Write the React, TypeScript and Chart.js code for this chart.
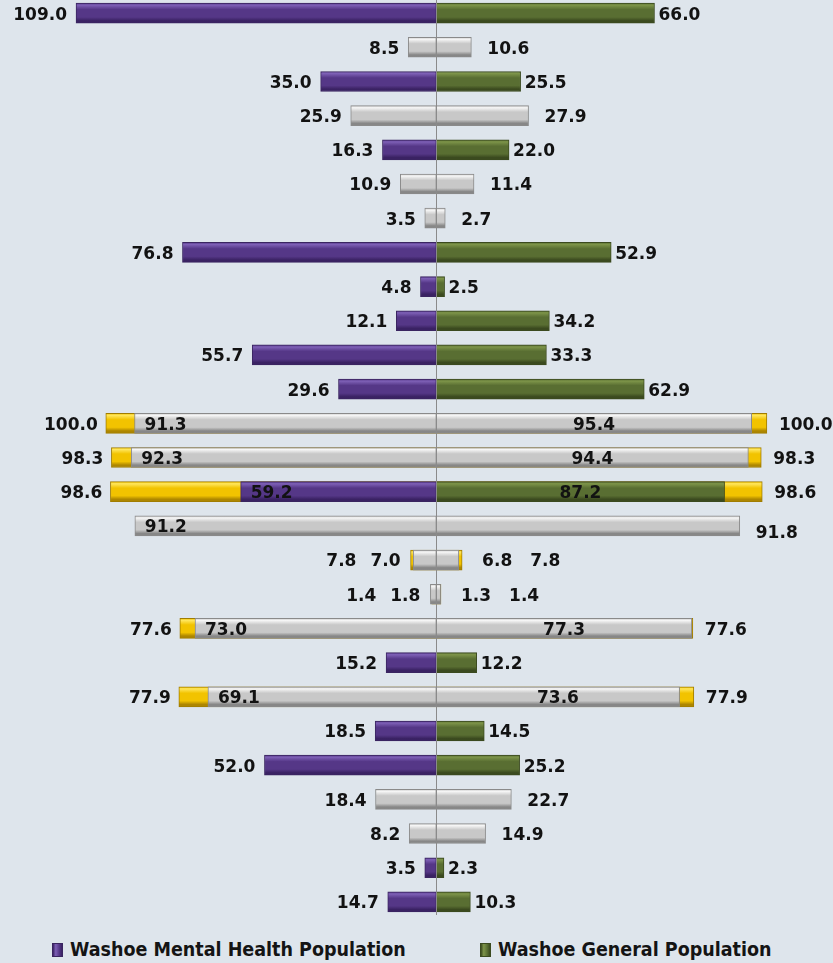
import React, { useEffect, useRef } from "react";
import { Chart, registerables } from "chart.js";

Chart.register(...registerables);

const categories = ["1","2","3","4","5","6","7","8","9","10","11","12","13","14","15","16","17","18","19","20","21","22","23","24","25","26","27"];

const mentalHealth = [109.0, 8.5, 35.0, 25.9, 16.3, 10.9, 3.5, 76.8, 4.8, 12.1, 55.7, 29.6, 91.3, 92.3, 59.2, 91.2, 7.0, 1.8, 73.0, 15.2, 69.1, 18.5, 52.0, 18.4, 8.2, 3.5, 14.7];
const general = [66.0, 10.6, 25.5, 27.9, 22.0, 11.4, 2.7, 52.9, 2.5, 34.2, 33.3, 62.9, 95.4, 94.4, 87.2, 91.8, 6.8, 1.3, 77.3, 12.2, 73.6, 14.5, 25.2, 22.7, 14.9, 2.3, 10.3];
const mentalHealthTarget = [null, null, null, null, null, null, null, null, null, null, null, null, 100.0, 98.3, 98.6, null, 7.8, 1.4, 77.6, null, 77.9, null, null, null, null, null, null];
const generalTarget = [null, null, null, null, null, null, null, null, null, null, null, null, 100.0, 98.3, 98.6, null, 7.8, 1.4, 77.6, null, 77.9, null, null, null, null, null, null];
const highlighted = [true, false, true, false, true, false, false, true, true, true, true, true, false, false, true, false, false, false, false, true, false, true, true, false, false, true, true];

const seriesNames = ["Washoe Mental Health Population", "Washoe General Population"];

const PAL = {
  purple: ["#7e60b6", "#553787", "#3a2263"],
  green: ["#7d9449", "#596e32", "#3b4a1f"],
  grey: ["#f6f6f6", "#c8c8c8", "#878787"],
  yellow: ["#ffe65c", "#f2c300", "#ad8600"],
};

function grad(chart: any, idx: number, cols: string[]) {
  const y = chart.scales && chart.scales.y;
  if (!y || !chart.ctx) return cols[1];
  const yc = y.getPixelForValue(idx);
  if (!isFinite(yc)) return cols[1];
  const g = chart.ctx.createLinearGradient(0, yc - 10, 0, yc + 10);
  g.addColorStop(0, cols[1]);
  g.addColorStop(0.1, cols[0]);
  g.addColorStop(0.32, cols[1]);
  g.addColorStop(0.7, cols[1]);
  g.addColorStop(0.88, cols[2]);
  g.addColorStop(1, cols[2]);
  return g;
}

const fmt = (v: number) => v.toFixed(1);

const labelPlugin = {
  id: "butterflyLabels",
  afterDatasetsDraw(chart: any) {
    const { ctx, chartArea } = chart;
    const x = chart.scales.x;
    const y = chart.scales.y;
    const x0 = x.getPixelForValue(0);
    ctx.save();
    ctx.strokeStyle = "#8a8a8a";
    ctx.lineWidth = 1;
    ctx.beginPath();
    ctx.moveTo(Math.round(x0) + 0.5, chartArea.top);
    ctx.lineTo(Math.round(x0) + 0.5, chartArea.bottom - 4);
    ctx.stroke();

    ctx.font = 'bold 17px "DejaVu Sans"';
    ctx.fillStyle = "#121212";
    ctx.textBaseline = "middle";
    const text = (s: string, px: number, py: number, align: CanvasTextAlign) => {
      ctx.textAlign = align;
      ctx.fillText(s, px, py);
    };
    for (let i = 0; i < categories.length; i++) {
      const yc = y.getPixelForValue(i) + 2;
      const l = mentalHealth[i];
      const r = general[i];
      const lt = mentalHealthTarget[i];
      const rt = generalTarget[i];
      const xl = x.getPixelForValue(-l);
      const xr = x.getPixelForValue(r);
      if (lt == null || rt == null) {
        if (!highlighted[i] && l > 85) text(fmt(l), xl + 10, yc, "left");
        else text(fmt(l), xl - 9, yc, "right");
        text(fmt(r), xr + (highlighted[i] ? 4 : 16), yc + (!highlighted[i] && r > 85 ? 6 : 0), "left");
      } else {
        const xlt = x.getPixelForValue(-lt);
        const xrt = x.getPixelForValue(rt);
        const leftEdge = Math.min(xl, xlt);
        const rightEdge = Math.max(xr, xrt);
        if (l > 30) {
          text(fmt(lt), leftEdge - 8, yc, "right");
          text(fmt(l), xl + 10, yc, "left");
          text(fmt(r), (x0 + xr) / 2, yc, "center");
          text(fmt(rt), rightEdge + 12, yc, "left");
        } else {
          const wl = ctx.measureText(fmt(l)).width;
          text(fmt(l), leftEdge - 10, yc, "right");
          text(fmt(lt), leftEdge - 10 - wl - 14, yc, "right");
          const wr = ctx.measureText(fmt(r)).width;
          text(fmt(r), rightEdge + 20, yc, "left");
          text(fmt(rt), rightEdge + 20 + wr + 18, yc, "left");
        }
      }
    }
    ctx.restore();
  },
};

export default function App() {
  const ref = useRef<HTMLCanvasElement>(null);
  useEffect(() => {
    if (!ref.current) return;
    const chart = new Chart(ref.current, {
      type: "bar",
      data: {
        labels: categories,
        datasets: [
          {
            label: seriesNames[0],
            data: mentalHealth.map((v) => -v),
            backgroundColor: (c: any) => grad(c.chart, c.dataIndex, highlighted[c.dataIndex] ? PAL.purple : PAL.grey),
            borderColor: (c: any) => (highlighted[c.dataIndex] ? "#3a2560" : "#8a8a8a"),
            borderWidth: 1,
            borderSkipped: false,
            grouped: false,
            order: 0,
            barThickness: 20,
          } as any,
          {
            label: seriesNames[1],
            data: general,
            backgroundColor: (c: any) => grad(c.chart, c.dataIndex, highlighted[c.dataIndex] ? PAL.green : PAL.grey),
            borderColor: (c: any) => (highlighted[c.dataIndex] ? "#3b4a1f" : "#8a8a8a"),
            borderWidth: 1,
            borderSkipped: false,
            grouped: false,
            order: 1,
            barThickness: 20,
          } as any,
          {
            label: "Mental Health Target",
            data: mentalHealthTarget.map((v) => (v == null ? null : -v)),
            backgroundColor: (c: any) => grad(c.chart, c.dataIndex, PAL.yellow),
            borderColor: "#a07c00",
            borderWidth: 1,
            borderSkipped: false,
            grouped: false,
            order: 2,
            barThickness: 20,
          } as any,
          {
            label: "General Target",
            data: generalTarget,
            backgroundColor: (c: any) => grad(c.chart, c.dataIndex, PAL.yellow),
            borderColor: "#a07c00",
            borderWidth: 1,
            borderSkipped: false,
            grouped: false,
            order: 3,
            barThickness: 20,
          } as any,
        ],
      },
      options: {
        indexAxis: "y",
        animation: false,
        responsive: false,
        devicePixelRatio: 1,
        layout: { padding: 0 },
        scales: {
          x: { type: "linear", min: -132, max: 120, display: false },
          y: { type: "category", display: false, offset: true },
        },
        plugins: { legend: { display: false }, tooltip: { enabled: false } },
      } as any,
      plugins: [labelPlugin],
    });
    return () => chart.destroy();
  }, []);

  const marker = (cols: string[], border: string) => (
    <span
      style={{
        display: "inline-block",
        width: 11,
        height: 14,
        marginRight: 7,
        background: `linear-gradient(to right, ${cols[2]}, ${cols[0]} 30%, ${cols[1]} 70%, ${cols[2]})`,
        border: `1px solid ${border}`,
        boxSizing: "border-box",
        verticalAlign: "middle",
      }}
    />
  );

  return (
    <div style={{ position: "absolute", left: 0, top: 0, width: 833, height: 963, background: "#dee5ec", overflow: "hidden" }}>
      <canvas ref={ref} width={833} height={923} style={{ position: "absolute", left: 0, top: -4, width: 833, height: 923 }} />
      <div
        style={{
          position: "absolute",
          top: 938,
          left: 52,
          font: 'bold 19.5px "DejaVu Sans Condensed", "DejaVu Sans"',
          color: "#141414",
          whiteSpace: "nowrap",
          display: "flex",
          alignItems: "center",
        }}
      >
        <span style={{ display: "inline-flex", alignItems: "center", width: 428 }}>
          {marker(PAL.purple, "#3a2560")}
          {seriesNames[0]}
        </span>
        <span style={{ display: "inline-flex", alignItems: "center" }}>
          {marker(PAL.green, "#3b4a1f")}
          {seriesNames[1]}
        </span>
      </div>
    </div>
  );
}
